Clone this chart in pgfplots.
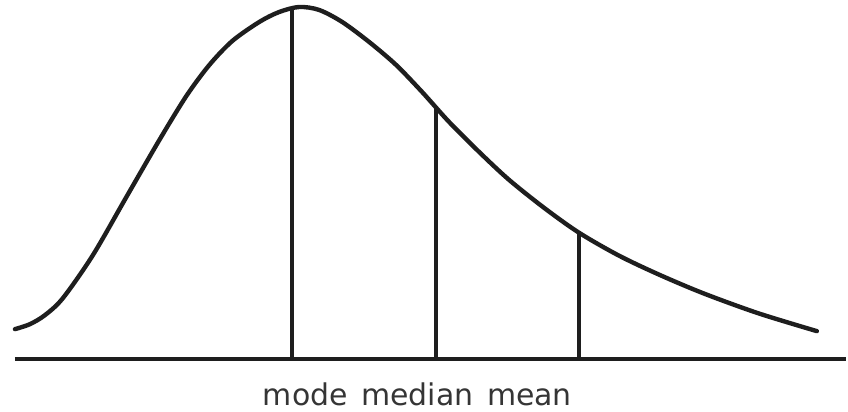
\documentclass[border=0pt]{standalone}
\usepackage{fontspec}
\setmainfont{DejaVu Sans}
\usepackage{pgfplots}
\pgfplotsset{compat=1.18}
\definecolor{ink}{RGB}{30,30,30}

\begin{document}
\begin{tikzpicture}
	\begin{axis}[
		scale only axis,
		width=424pt,
		height=206.5pt,
		xmin=0, xmax=848,
		ymin=-53, ymax=360,
		hide axis,
		clip=false,
	]
		% skewed density curve
		\addplot[ink, line width=2.2pt, smooth, line cap=round] coordinates {
			(15,30) (30,35) (45,44) (63,61) (93,104) (127,163)
			(160,220) (187,264) (210,295) (233,319) (260,338) (280,348) (300,353)
			(320,350) (343,338) (370,318) (397,295) (423,268) (450,238)
			(480,208) (510,180) (545,152) (580,127) (620,104)
			(660,85) (705,66) (760,46) (819,28)
		};
		% baseline
		\addplot[ink, line width=2.2pt] coordinates {(15,0) (848,0)};
		% mode, median, mean
		\addplot[ink, line width=2pt] coordinates {(293,0) (293,352)};
		\addplot[ink, line width=2pt] coordinates {(437,0) (437,253)};
		\addplot[ink, line width=2pt] coordinates {(580,0) (580,127)};
		\path (axis cs:0,-53) rectangle (axis cs:848,360);
		\node[anchor=base, text=ink!90, font=\fontsize{15}{17}\selectfont, inner sep=0pt]
			at (axis cs:418.5,-47) {mode\hspace{2pt} median\hspace{2pt} mean};
	\end{axis}
\end{tikzpicture}
\end{document}
